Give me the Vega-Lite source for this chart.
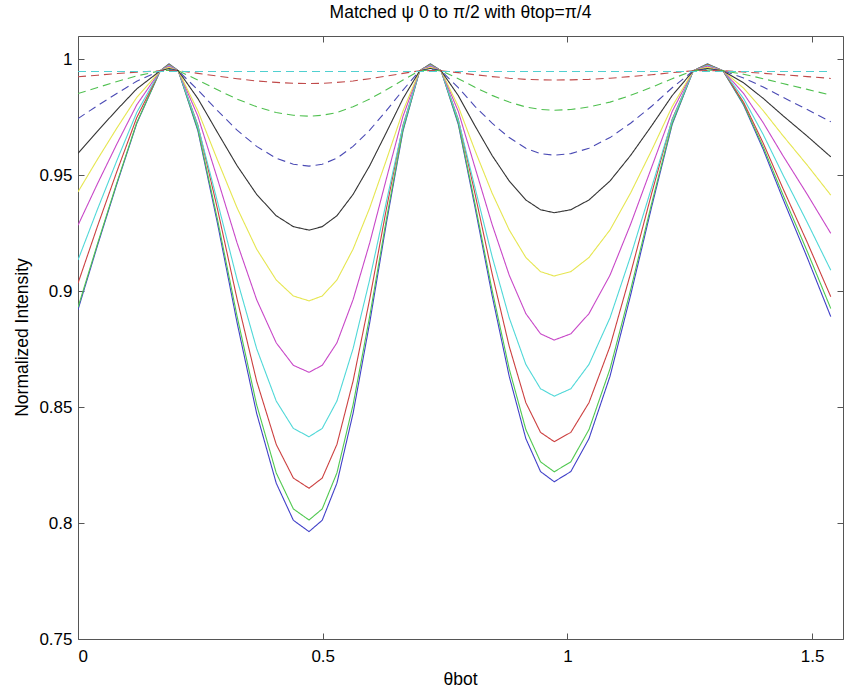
{
"$schema": "https://vega.github.io/schema/vega-lite/v6.json",
"width": 765, "height": 603,
"autosize": {"type": "none"},
"padding": {"left": 78, "top": 36, "right": 1, "bottom": 53},
"background": "white",
"title": {"text": "Matched ψ 0 to π/2 with θtop=π/4", "font": "Liberation Sans", "fontSize": 17.5, "fontWeight": "normal", "color": "#000", "anchor": "middle", "offset": 14},
"config": {
  "view": {"stroke": "#555", "strokeWidth": 1},
  "axis": {"domain": false, "grid": false, "ticks": true, "tickSize": -6, "tickColor": "#555", "labelFont": "Liberation Sans", "labelFontSize": 17, "labelColor": "#000", "titleFont": "Liberation Sans", "titleFontSize": 17.5, "titleFontWeight": "normal", "titleColor": "#000"}
},
"data": {"values": [
{"s":"a","x":0,"y":0.892},{"s":"a","x":0.04,"y":0.9198},{"s":"a","x":0.08,"y":0.9466},{"s":"a","x":0.12,"y":0.9723},{"s":"a","x":0.168,"y":0.995},{"s":"a","x":0.186,"y":0.998},{"s":"a","x":0.205,"y":0.995},
{"s":"a","x":0.245,"y":0.9691},{"s":"a","x":0.285,"y":0.9292},{"s":"a","x":0.325,"y":0.8864},{"s":"a","x":0.365,"y":0.8473},{"s":"a","x":0.405,"y":0.8172},{"s":"a","x":0.44,"y":0.8012},{"s":"a","x":0.472,"y":0.7963},
{"s":"a","x":0.499,"y":0.8012},{"s":"a","x":0.529,"y":0.8172},{"s":"a","x":0.562,"y":0.8473},{"s":"a","x":0.596,"y":0.8864},{"s":"a","x":0.63,"y":0.9292},{"s":"a","x":0.664,"y":0.9691},{"s":"a","x":0.698,"y":0.995},{"s":"a","x":0.72,"y":0.998},{"s":"a","x":0.742,"y":0.995},
{"s":"a","x":0.777,"y":0.9719},{"s":"a","x":0.811,"y":0.9363},{"s":"a","x":0.846,"y":0.8982},{"s":"a","x":0.881,"y":0.8633},{"s":"a","x":0.915,"y":0.8364},{"s":"a","x":0.945,"y":0.8222},{"s":"a","x":0.973,"y":0.8178},
{"s":"a","x":1.007,"y":0.8222},{"s":"a","x":1.044,"y":0.8364},{"s":"a","x":1.087,"y":0.8633},{"s":"a","x":1.129,"y":0.8982},{"s":"a","x":1.172,"y":0.9363},{"s":"a","x":1.214,"y":0.9719},{"s":"a","x":1.257,"y":0.995},{"s":"a","x":1.286,"y":0.998},{"s":"a","x":1.318,"y":0.995},
{"s":"a","x":1.36,"y":0.9802},{"s":"a","x":1.4,"y":0.9611},{"s":"a","x":1.44,"y":0.9399},{"s":"a","x":1.49,"y":0.9144},{"s":"a","x":1.538,"y":0.889},

{"s":"b","x":0,"y":0.893},{"s":"b","x":0.04,"y":0.9205},{"s":"b","x":0.08,"y":0.9471},{"s":"b","x":0.12,"y":0.9726},{"s":"b","x":0.168,"y":0.995},{"s":"b","x":0.186,"y":0.9979},{"s":"b","x":0.205,"y":0.995},
{"s":"b","x":0.245,"y":0.9697},{"s":"b","x":0.285,"y":0.9309},{"s":"b","x":0.325,"y":0.8892},{"s":"b","x":0.365,"y":0.851},{"s":"b","x":0.405,"y":0.8216},{"s":"b","x":0.44,"y":0.8061},{"s":"b","x":0.472,"y":0.8013},
{"s":"b","x":0.499,"y":0.8061},{"s":"b","x":0.529,"y":0.8216},{"s":"b","x":0.562,"y":0.851},{"s":"b","x":0.596,"y":0.8892},{"s":"b","x":0.63,"y":0.9309},{"s":"b","x":0.664,"y":0.9697},{"s":"b","x":0.698,"y":0.995},{"s":"b","x":0.72,"y":0.9979},{"s":"b","x":0.742,"y":0.995},
{"s":"b","x":0.777,"y":0.9725},{"s":"b","x":0.811,"y":0.9378},{"s":"b","x":0.846,"y":0.9005},{"s":"b","x":0.881,"y":0.8665},{"s":"b","x":0.915,"y":0.8403},{"s":"b","x":0.945,"y":0.8264},{"s":"b","x":0.973,"y":0.8221},
{"s":"b","x":1.007,"y":0.8264},{"s":"b","x":1.044,"y":0.8403},{"s":"b","x":1.087,"y":0.8665},{"s":"b","x":1.129,"y":0.9005},{"s":"b","x":1.172,"y":0.9378},{"s":"b","x":1.214,"y":0.9725},{"s":"b","x":1.257,"y":0.995},{"s":"b","x":1.286,"y":0.9979},{"s":"b","x":1.318,"y":0.995},
{"s":"b","x":1.36,"y":0.9806},{"s":"b","x":1.4,"y":0.9622},{"s":"b","x":1.44,"y":0.9417},{"s":"b","x":1.49,"y":0.9171},{"s":"b","x":1.538,"y":0.8925},

{"s":"c","x":0,"y":0.9034},{"s":"c","x":0.04,"y":0.9281},{"s":"c","x":0.08,"y":0.9519},{"s":"c","x":0.12,"y":0.9748},{"s":"c","x":0.168,"y":0.995},{"s":"c","x":0.186,"y":0.9977},{"s":"c","x":0.205,"y":0.995},
{"s":"c","x":0.245,"y":0.9715},{"s":"c","x":0.285,"y":0.9354},{"s":"c","x":0.325,"y":0.8966},{"s":"c","x":0.365,"y":0.8612},{"s":"c","x":0.405,"y":0.8339},{"s":"c","x":0.44,"y":0.8194},{"s":"c","x":0.472,"y":0.815},
{"s":"c","x":0.499,"y":0.8194},{"s":"c","x":0.529,"y":0.8339},{"s":"c","x":0.562,"y":0.8612},{"s":"c","x":0.596,"y":0.8966},{"s":"c","x":0.63,"y":0.9354},{"s":"c","x":0.664,"y":0.9715},{"s":"c","x":0.698,"y":0.995},{"s":"c","x":0.72,"y":0.9977},{"s":"c","x":0.742,"y":0.995},
{"s":"c","x":0.777,"y":0.9741},{"s":"c","x":0.811,"y":0.9421},{"s":"c","x":0.846,"y":0.9076},{"s":"c","x":0.881,"y":0.8762},{"s":"c","x":0.915,"y":0.8519},{"s":"c","x":0.945,"y":0.8391},{"s":"c","x":0.973,"y":0.8351},
{"s":"c","x":1.007,"y":0.8391},{"s":"c","x":1.044,"y":0.8519},{"s":"c","x":1.087,"y":0.8762},{"s":"c","x":1.129,"y":0.9076},{"s":"c","x":1.172,"y":0.9421},{"s":"c","x":1.214,"y":0.9741},{"s":"c","x":1.257,"y":0.995},{"s":"c","x":1.286,"y":0.9977},{"s":"c","x":1.318,"y":0.995},
{"s":"c","x":1.36,"y":0.9814},{"s":"c","x":1.4,"y":0.9638},{"s":"c","x":1.44,"y":0.9444},{"s":"c","x":1.49,"y":0.921},{"s":"c","x":1.538,"y":0.8976},

{"s":"d","x":0,"y":0.9134},{"s":"d","x":0.04,"y":0.9354},{"s":"d","x":0.08,"y":0.9566},{"s":"d","x":0.12,"y":0.977},{"s":"d","x":0.168,"y":0.995},{"s":"d","x":0.186,"y":0.9974},{"s":"d","x":0.205,"y":0.995},
{"s":"d","x":0.245,"y":0.9712},{"s":"d","x":0.285,"y":0.9385},{"s":"d","x":0.325,"y":0.905},{"s":"d","x":0.365,"y":0.8752},{"s":"d","x":0.405,"y":0.8526},{"s":"d","x":0.44,"y":0.8408},{"s":"d","x":0.472,"y":0.8372},
{"s":"d","x":0.499,"y":0.8408},{"s":"d","x":0.529,"y":0.8526},{"s":"d","x":0.562,"y":0.8752},{"s":"d","x":0.596,"y":0.905},{"s":"d","x":0.63,"y":0.9385},{"s":"d","x":0.664,"y":0.9712},{"s":"d","x":0.698,"y":0.995},{"s":"d","x":0.72,"y":0.9974},{"s":"d","x":0.742,"y":0.995},
{"s":"d","x":0.777,"y":0.9738},{"s":"d","x":0.811,"y":0.9447},{"s":"d","x":0.846,"y":0.915},{"s":"d","x":0.881,"y":0.8885},{"s":"d","x":0.915,"y":0.8684},{"s":"d","x":0.945,"y":0.8579},{"s":"d","x":0.973,"y":0.8547},
{"s":"d","x":1.007,"y":0.8579},{"s":"d","x":1.044,"y":0.8684},{"s":"d","x":1.087,"y":0.8885},{"s":"d","x":1.129,"y":0.915},{"s":"d","x":1.172,"y":0.9447},{"s":"d","x":1.214,"y":0.9738},{"s":"d","x":1.257,"y":0.995},{"s":"d","x":1.286,"y":0.9974},{"s":"d","x":1.318,"y":0.995},
{"s":"d","x":1.36,"y":0.983},{"s":"d","x":1.4,"y":0.9675},{"s":"d","x":1.44,"y":0.9503},{"s":"d","x":1.49,"y":0.9296},{"s":"d","x":1.538,"y":0.909},

{"s":"e","x":0,"y":0.9284},{"s":"e","x":0.04,"y":0.9464},{"s":"e","x":0.08,"y":0.9637},{"s":"e","x":0.12,"y":0.9803},{"s":"e","x":0.168,"y":0.995},{"s":"e","x":0.186,"y":0.997},{"s":"e","x":0.205,"y":0.995},
{"s":"e","x":0.245,"y":0.9754},{"s":"e","x":0.285,"y":0.9484},{"s":"e","x":0.325,"y":0.9208},{"s":"e","x":0.365,"y":0.8963},{"s":"e","x":0.405,"y":0.8777},{"s":"e","x":0.44,"y":0.868},{"s":"e","x":0.472,"y":0.865},
{"s":"e","x":0.499,"y":0.868},{"s":"e","x":0.529,"y":0.8777},{"s":"e","x":0.562,"y":0.8963},{"s":"e","x":0.596,"y":0.9208},{"s":"e","x":0.63,"y":0.9484},{"s":"e","x":0.664,"y":0.9754},{"s":"e","x":0.698,"y":0.995},{"s":"e","x":0.72,"y":0.997},{"s":"e","x":0.742,"y":0.995},
{"s":"e","x":0.777,"y":0.9775},{"s":"e","x":0.811,"y":0.9534},{"s":"e","x":0.846,"y":0.9288},{"s":"e","x":0.881,"y":0.9069},{"s":"e","x":0.915,"y":0.8903},{"s":"e","x":0.945,"y":0.8816},{"s":"e","x":0.973,"y":0.8789},
{"s":"e","x":1.007,"y":0.8816},{"s":"e","x":1.044,"y":0.8903},{"s":"e","x":1.087,"y":0.9069},{"s":"e","x":1.129,"y":0.9288},{"s":"e","x":1.172,"y":0.9534},{"s":"e","x":1.214,"y":0.9775},{"s":"e","x":1.257,"y":0.995},{"s":"e","x":1.286,"y":0.997},{"s":"e","x":1.318,"y":0.995},
{"s":"e","x":1.36,"y":0.9852},{"s":"e","x":1.4,"y":0.9726},{"s":"e","x":1.44,"y":0.9585},{"s":"e","x":1.49,"y":0.9417},{"s":"e","x":1.538,"y":0.9249},

{"s":"f","x":0,"y":0.9428},{"s":"f","x":0.04,"y":0.9569},{"s":"f","x":0.08,"y":0.9705},{"s":"f","x":0.12,"y":0.9835},{"s":"f","x":0.168,"y":0.995},{"s":"f","x":0.186,"y":0.9965},{"s":"f","x":0.205,"y":0.995},
{"s":"f","x":0.245,"y":0.9777},{"s":"f","x":0.285,"y":0.9565},{"s":"f","x":0.325,"y":0.9359},{"s":"f","x":0.365,"y":0.9181},{"s":"f","x":0.405,"y":0.9048},{"s":"f","x":0.44,"y":0.8979},{"s":"f","x":0.472,"y":0.8958},
{"s":"f","x":0.499,"y":0.8979},{"s":"f","x":0.529,"y":0.9048},{"s":"f","x":0.562,"y":0.9181},{"s":"f","x":0.596,"y":0.9359},{"s":"f","x":0.63,"y":0.9565},{"s":"f","x":0.664,"y":0.9777},{"s":"f","x":0.698,"y":0.995},{"s":"f","x":0.72,"y":0.9965},{"s":"f","x":0.742,"y":0.995},
{"s":"f","x":0.777,"y":0.9796},{"s":"f","x":0.811,"y":0.9607},{"s":"f","x":0.846,"y":0.9423},{"s":"f","x":0.881,"y":0.9264},{"s":"f","x":0.915,"y":0.9145},{"s":"f","x":0.945,"y":0.9084},{"s":"f","x":0.973,"y":0.9065},
{"s":"f","x":1.007,"y":0.9084},{"s":"f","x":1.044,"y":0.9145},{"s":"f","x":1.087,"y":0.9264},{"s":"f","x":1.129,"y":0.9423},{"s":"f","x":1.172,"y":0.9607},{"s":"f","x":1.214,"y":0.9796},{"s":"f","x":1.257,"y":0.995},{"s":"f","x":1.286,"y":0.9965},{"s":"f","x":1.318,"y":0.995},
{"s":"f","x":1.36,"y":0.9875},{"s":"f","x":1.4,"y":0.9778},{"s":"f","x":1.44,"y":0.9671},{"s":"f","x":1.49,"y":0.9543},{"s":"f","x":1.538,"y":0.9414},

{"s":"g","x":0,"y":0.9594},{"s":"g","x":0.04,"y":0.969},{"s":"g","x":0.08,"y":0.9783},{"s":"g","x":0.12,"y":0.9872},{"s":"g","x":0.168,"y":0.995},{"s":"g","x":0.186,"y":0.996},{"s":"g","x":0.205,"y":0.995},
{"s":"g","x":0.245,"y":0.983},{"s":"g","x":0.285,"y":0.9684},{"s":"g","x":0.325,"y":0.9541},{"s":"g","x":0.365,"y":0.9417},{"s":"g","x":0.405,"y":0.9325},{"s":"g","x":0.44,"y":0.9278},{"s":"g","x":0.472,"y":0.9263},
{"s":"g","x":0.499,"y":0.9278},{"s":"g","x":0.529,"y":0.9325},{"s":"g","x":0.562,"y":0.9417},{"s":"g","x":0.596,"y":0.9541},{"s":"g","x":0.63,"y":0.9684},{"s":"g","x":0.664,"y":0.983},{"s":"g","x":0.698,"y":0.995},{"s":"g","x":0.72,"y":0.996},{"s":"g","x":0.742,"y":0.995},
{"s":"g","x":0.777,"y":0.9843},{"s":"g","x":0.811,"y":0.9713},{"s":"g","x":0.846,"y":0.9585},{"s":"g","x":0.881,"y":0.9475},{"s":"g","x":0.915,"y":0.9393},{"s":"g","x":0.945,"y":0.9351},{"s":"g","x":0.973,"y":0.9338},
{"s":"g","x":1.007,"y":0.9351},{"s":"g","x":1.044,"y":0.9393},{"s":"g","x":1.087,"y":0.9475},{"s":"g","x":1.129,"y":0.9585},{"s":"g","x":1.172,"y":0.9713},{"s":"g","x":1.214,"y":0.9843},{"s":"g","x":1.257,"y":0.995},{"s":"g","x":1.286,"y":0.996},{"s":"g","x":1.318,"y":0.995},
{"s":"g","x":1.36,"y":0.9898},{"s":"g","x":1.4,"y":0.9831},{"s":"g","x":1.44,"y":0.9757},{"s":"g","x":1.49,"y":0.9668},{"s":"g","x":1.538,"y":0.9579},

{"s":"h","x":0,"y":0.9744},{"s":"h","x":0.04,"y":0.98},{"s":"h","x":0.08,"y":0.9853},{"s":"h","x":0.12,"y":0.9905},{"s":"h","x":0.168,"y":0.995},{"s":"h","x":0.186,"y":0.9956},{"s":"h","x":0.205,"y":0.995},
{"s":"h","x":0.245,"y":0.9867},{"s":"h","x":0.285,"y":0.9778},{"s":"h","x":0.325,"y":0.9694},{"s":"h","x":0.365,"y":0.9624},{"s":"h","x":0.405,"y":0.9573},{"s":"h","x":0.44,"y":0.9547},{"s":"h","x":0.472,"y":0.9539},
{"s":"h","x":0.499,"y":0.9547},{"s":"h","x":0.529,"y":0.9573},{"s":"h","x":0.562,"y":0.9624},{"s":"h","x":0.596,"y":0.9694},{"s":"h","x":0.63,"y":0.9778},{"s":"h","x":0.664,"y":0.9867},{"s":"h","x":0.698,"y":0.995},{"s":"h","x":0.72,"y":0.9956},{"s":"h","x":0.742,"y":0.995},
{"s":"h","x":0.777,"y":0.9877},{"s":"h","x":0.811,"y":0.9797},{"s":"h","x":0.846,"y":0.9724},{"s":"h","x":0.881,"y":0.9662},{"s":"h","x":0.915,"y":0.9616},{"s":"h","x":0.945,"y":0.9593},{"s":"h","x":0.973,"y":0.9586},
{"s":"h","x":1.007,"y":0.9593},{"s":"h","x":1.044,"y":0.9616},{"s":"h","x":1.087,"y":0.9662},{"s":"h","x":1.129,"y":0.9724},{"s":"h","x":1.172,"y":0.9797},{"s":"h","x":1.214,"y":0.9877},{"s":"h","x":1.257,"y":0.995},{"s":"h","x":1.286,"y":0.9956},{"s":"h","x":1.318,"y":0.995},
{"s":"h","x":1.36,"y":0.9919},{"s":"h","x":1.4,"y":0.988},{"s":"h","x":1.44,"y":0.9836},{"s":"h","x":1.49,"y":0.9783},{"s":"h","x":1.538,"y":0.973},

{"s":"i","x":0,"y":0.9852},{"s":"i","x":0.04,"y":0.9878},{"s":"i","x":0.08,"y":0.9904},{"s":"i","x":0.12,"y":0.9928},{"s":"i","x":0.168,"y":0.995},{"s":"i","x":0.186,"y":0.9953},{"s":"i","x":0.205,"y":0.995},
{"s":"i","x":0.245,"y":0.991},{"s":"i","x":0.285,"y":0.9868},{"s":"i","x":0.325,"y":0.9828},{"s":"i","x":0.365,"y":0.9795},{"s":"i","x":0.405,"y":0.977},{"s":"i","x":0.44,"y":0.9758},{"s":"i","x":0.472,"y":0.9754},
{"s":"i","x":0.499,"y":0.9758},{"s":"i","x":0.529,"y":0.977},{"s":"i","x":0.562,"y":0.9795},{"s":"i","x":0.596,"y":0.9828},{"s":"i","x":0.63,"y":0.9868},{"s":"i","x":0.664,"y":0.991},{"s":"i","x":0.698,"y":0.995},{"s":"i","x":0.72,"y":0.9953},{"s":"i","x":0.742,"y":0.995},
{"s":"i","x":0.777,"y":0.9916},{"s":"i","x":0.811,"y":0.9879},{"s":"i","x":0.846,"y":0.9844},{"s":"i","x":0.881,"y":0.9815},{"s":"i","x":0.915,"y":0.9794},{"s":"i","x":0.945,"y":0.9783},{"s":"i","x":0.973,"y":0.978},
{"s":"i","x":1.007,"y":0.9783},{"s":"i","x":1.044,"y":0.9794},{"s":"i","x":1.087,"y":0.9815},{"s":"i","x":1.129,"y":0.9844},{"s":"i","x":1.172,"y":0.9879},{"s":"i","x":1.214,"y":0.9916},{"s":"i","x":1.257,"y":0.995},{"s":"i","x":1.286,"y":0.9953},{"s":"i","x":1.318,"y":0.995},
{"s":"i","x":1.36,"y":0.9935},{"s":"i","x":1.4,"y":0.9916},{"s":"i","x":1.44,"y":0.9895},{"s":"i","x":1.49,"y":0.987},{"s":"i","x":1.538,"y":0.9845},

{"s":"j","x":0,"y":0.9924},{"s":"j","x":0.04,"y":0.9931},{"s":"j","x":0.08,"y":0.9938},{"s":"j","x":0.12,"y":0.9944},{"s":"j","x":0.168,"y":0.995},{"s":"j","x":0.186,"y":0.9951},{"s":"j","x":0.205,"y":0.995},
{"s":"j","x":0.245,"y":0.9939},{"s":"j","x":0.285,"y":0.9927},{"s":"j","x":0.325,"y":0.9916},{"s":"j","x":0.365,"y":0.9906},{"s":"j","x":0.405,"y":0.99},{"s":"j","x":0.44,"y":0.9896},{"s":"j","x":0.472,"y":0.9895},
{"s":"j","x":0.499,"y":0.9896},{"s":"j","x":0.529,"y":0.99},{"s":"j","x":0.562,"y":0.9906},{"s":"j","x":0.596,"y":0.9916},{"s":"j","x":0.63,"y":0.9927},{"s":"j","x":0.664,"y":0.9939},{"s":"j","x":0.698,"y":0.995},{"s":"j","x":0.72,"y":0.9951},{"s":"j","x":0.742,"y":0.995},
{"s":"j","x":0.777,"y":0.9942},{"s":"j","x":0.811,"y":0.9933},{"s":"j","x":0.846,"y":0.9925},{"s":"j","x":0.881,"y":0.9918},{"s":"j","x":0.915,"y":0.9913},{"s":"j","x":0.945,"y":0.9911},{"s":"j","x":0.973,"y":0.991},
{"s":"j","x":1.007,"y":0.9911},{"s":"j","x":1.044,"y":0.9913},{"s":"j","x":1.087,"y":0.9918},{"s":"j","x":1.129,"y":0.9925},{"s":"j","x":1.172,"y":0.9933},{"s":"j","x":1.214,"y":0.9942},{"s":"j","x":1.257,"y":0.995},{"s":"j","x":1.286,"y":0.9951},{"s":"j","x":1.318,"y":0.995},
{"s":"j","x":1.36,"y":0.9945},{"s":"j","x":1.4,"y":0.9939},{"s":"j","x":1.44,"y":0.9933},{"s":"j","x":1.49,"y":0.9925},{"s":"j","x":1.538,"y":0.9917},

{"s":"k","x":0,"y":0.9947},{"s":"k","x":1.538,"y":0.9947}
]},
"layer": [
  {
    "mark": {"type": "line", "strokeWidth": 1.1, "clip": true},
    "encoding": {
      "x": {"field": "x", "type": "quantitative", "scale": {"domain": [0, 1.563], "nice": false, "zero": false},
            "axis": {"orient": "bottom", "values": [0, 0.5, 1, 1.5], "format": ".1~f", "labelPadding": 15, "title": "θbot", "titleX": 382, "titleY": 40, "titleBaseline": "middle"}},
      "y": {"field": "y", "type": "quantitative", "scale": {"domain": [0.75, 1.01], "nice": false, "zero": false},
            "axis": {"orient": "left", "values": [0.75, 0.8, 0.85, 0.9, 0.95, 1], "format": ".2~f", "labelPadding": 12, "title": "Normalized Intensity", "titleX": -56, "titleY": 301, "titleBaseline": "middle", "titleAngle": -90}},
      "color": {"field": "s", "type": "nominal", "legend": null,
                "scale": {"domain": ["a","b","c","d","e","f","g","h","i","j","k"],
                          "range": ["#4040c8","#50c850","#cc4040","#50d8d8","#c848c8","#e6e650","#333333","#4a4ab4","#50c050","#c04a4a","#50d0d0"]}},
      "strokeDash": {"field": "s", "type": "nominal", "legend": null,
                "scale": {"domain": ["a","b","c","d","e","f","g","h","i","j","k"],
                          "range": [[1,0],[1,0],[1,0],[1,0],[1,0],[1,0],[1,0],[8,5],[8,5],[8,5],[8,5]]}}
    }
  },
  {
    "mark": {"type": "line", "opacity": 0},
    "encoding": {
      "x": {"field": "x", "type": "quantitative", "axis": {"orient": "top", "values": [0, 0.5, 1, 1.5], "labels": false, "title": null}},
      "y": {"field": "y", "type": "quantitative", "axis": {"orient": "right", "values": [0.75, 0.8, 0.85, 0.9, 0.95, 1], "labels": false, "title": null}}
    }
  }
],
"resolve": {"axis": {"x": "independent", "y": "independent"}}
}
